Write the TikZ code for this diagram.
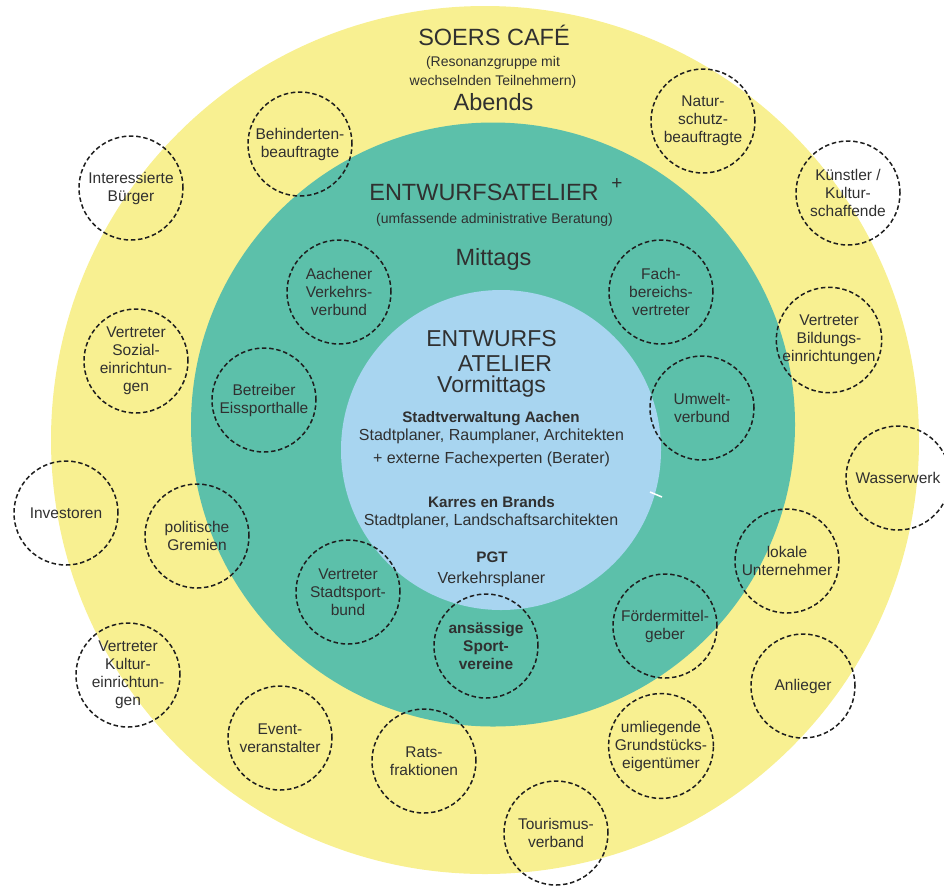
\documentclass[tikz,border=0pt]{standalone}
\usepackage{fontspec}
\setmainfont{Liberation Sans}
\definecolor{cafe}{RGB}{248,240,145}
\definecolor{atelier}{RGB}{92,192,170}
\definecolor{inner}{RGB}{168,213,240}
\definecolor{ink}{RGB}{48,48,48}
\definecolor{dashink}{RGB}{30,30,30}
\begin{document}
\begin{tikzpicture}[x=1pt,y=-1pt,
  stake/.style={circle, draw=dashink, dash pattern=on 4.5pt off 2.7pt, line width=1.5pt,
    minimum size=104pt, inner sep=0pt, align=center, text=ink,
    font=\fontsize{15.5}{18}\selectfont},
  bigtitle/.style={anchor=base, text=ink, inner sep=0pt, font=\fontsize{23.5}{26}\selectfont},
  subtitle/.style={anchor=base, text=ink, inner sep=0pt, font=\fontsize{14}{16}\selectfont},
  body/.style={anchor=base, text=ink, inner sep=0pt, font=\fontsize{16}{18}\selectfont},
  bodybold/.style={anchor=base, text=ink, inner sep=0pt, font=\fontsize{15.2}{18}\selectfont\bfseries}]
\useasboundingbox (0,0) rectangle (944,887);
% rings
\fill[cafe] (485,440) circle (434pt);
\fill[atelier] (493,424.5) circle (302pt);
\fill[inner] (501,450) circle (160pt);
\draw[white, line width=1.5pt] (650,492) -- (662,497);
% outer ring titles
\node[bigtitle] (cafe) at (494,45) {SOERS CAFÉ};
\node[subtitle] (cafesub1) at (493,66) {(Resonanzgruppe mit};
\node[subtitle] (cafesub2) at (493,85) {wechselnden Teilnehmern)};
\node[bigtitle] (abends) at (493.5,110) {Abends};
% middle ring titles
\node[bigtitle] (atel) at (484,200) {ENTWURFSATELIER};
\node[anchor=base, text=ink, inner sep=0pt, font=\fontsize{19}{20}\selectfont] (plus) at (617,189) {+};
\node[subtitle] (atelsub) at (494.5,223) {(umfassende administrative Beratung)};
\node[bigtitle] (mittags) at (493.5,265) {Mittags};
% inner circle
\node[anchor=north, text=ink, inner sep=0pt, align=center,
      font=\fontsize{23}{25}\selectfont] (ent) at (491.5,330)
      {ENTWURFS\\\hspace*{27pt}ATELIER\\[-4pt]Vormittags};
\node[bodybold] (stadt) at (491,422) {Stadtverwaltung Aachen};
\node[body] (stadt2) at (491.5,440) {Stadtplaner, Raumplaner, Architekten};
\node[body] (extern) at (491.5,463) {+ externe Fachexperten (Berater)};
\node[bodybold] (karres) at (491.5,507) {Karres en Brands};
\node[body] (karres2) at (491,525) {Stadtplaner, Landschaftsarchitekten};
\node[bodybold] (pgt) at (492,562) {PGT};
\node[body] (pgt2) at (491.5,583) {Verkehrsplaner};
% stakeholder circles
\node[stake] (interessierte) at (131,188) {Interessierte\\Bürger};
\node[stake] (behinderten) at (300,144) {Behinderten-\\beauftragte};
\node[stake] (natur) at (703,121) {Natur-\\schutz-\\beauftragte};
\node[stake] (kuenstler) at (848,193) {Künstler /\\Kultur-\\schaffende};
\node[stake] (aachener) at (339,292) {Aachener\\Verkehrs-\\verbund};
\node[stake] (fach) at (661,292) {Fach-\\bereichs-\\vertreter};
\node[stake] (sozial) at (136,361) {Vertreter\\Sozial-\\einrichtun-\\gen};
\node[stake] (bildung) at (829,340) {Vertreter\\Bildungs-\\einrichtungen};
\node[stake] (eissport) at (264,400) {Betreiber\\Eissporthalle};
\node[stake] (umwelt) at (702,408) {Umwelt-\\verbund};
\node[stake] (wasser) at (898,478) {Wasserwerk};
\node[stake] (investoren) at (66,513) {Investoren};
\node[stake] (gremien) at (197,536) {politische\\Gremien};
\node[stake] (unternehmer) at (787,561) {lokale\\Unternehmer};
\node[stake] (stadtsport) at (348,592) {Vertreter\\Stadtsport-\\bund};
\node[stake, font=\fontsize{15.5}{18}\selectfont\bfseries] (sportvereine) at (486,646) {ansässige\\Sport-\\vereine};
\node[stake] (foerder) at (665,626) {Fördermittel-\\geber};
\node[stake] (kultur) at (128,675) {Vertreter\\Kultur-\\einrichtun-\\gen};
\node[stake] (anlieger) at (803,686) {Anlieger};
\node[stake] (event) at (280,738) {Event-\\veranstalter};
\node[stake] (rats) at (424,761) {Rats-\\fraktionen};
\node[stake] (grund) at (661,746) {umliegende\\Grundstücks-\\eigentümer};
\node[stake] (tourismus) at (556,833) {Tourismus-\\verband};
\end{tikzpicture}
\end{document}
